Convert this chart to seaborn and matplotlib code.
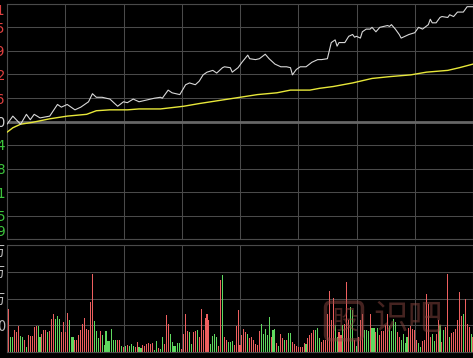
import matplotlib
matplotlib.use("Agg")
import matplotlib.pyplot as plt
import seaborn as sns

# ---------------- data ----------------
prev_close = 30.00
price_step = 0.262

price_min = [0, 3, 7, 10, 12, 14, 17, 22, 26, 28, 31, 35, 38, 42, 44, 46, 49, 53, 57, 60,
             62, 65, 68, 74, 76, 79, 80, 83, 85, 89, 92, 94, 97, 99, 101, 103, 106, 108, 111, 112,
             115, 116, 119, 121, 124, 125, 128, 130, 133, 135, 138, 141, 144, 146, 147, 149, 151, 154, 157, 160,
             162, 165, 167, 169, 170, 171, 174, 176, 178, 179, 180, 182, 183, 185, 187, 188, 190, 192, 194, 196,
             197, 198, 200, 202, 203, 205, 207, 210, 212, 214, 217, 218, 219, 221, 223, 224, 227, 228, 230, 232,
             233, 235, 237, 240]
price_val = [29.97, 30.06, 29.97, 30.08, 30.02, 30.08, 30.04, 30.06, 30.19, 30.16, 30.19, 30.13, 30.16, 30.22, 30.31, 30.27, 30.27, 30.25, 30.17, 30.22,
             30.21, 30.25, 30.22, 30.25, 30.26, 30.27, 30.26, 30.35, 30.32, 30.30, 30.41, 30.43, 30.41, 30.45, 30.52, 30.55, 30.57, 30.54, 30.60, 30.61,
             30.60, 30.55, 30.60, 30.66, 30.74, 30.70, 30.69, 30.70, 30.75, 30.70, 30.64, 30.61, 30.61, 30.60, 30.52, 30.58, 30.61, 30.61, 30.66, 30.69,
             30.69, 30.70, 30.88, 30.91, 30.84, 30.88, 30.88, 30.95, 30.97, 30.94, 30.95, 30.93, 31.00, 31.03, 31.03, 31.05, 31.00, 31.05, 31.06, 31.07,
             31.06, 31.08, 31.03, 30.97, 30.93, 30.95, 30.97, 30.99, 31.05, 31.03, 31.08, 31.14, 31.10, 31.10, 31.16, 31.17, 31.16, 31.19, 31.17, 31.22,
             31.22, 31.22, 31.28, 31.28]

avg_min = [0, 3, 7, 13, 22, 31, 41, 46, 53, 62, 68, 79, 91, 99, 108, 120, 129, 139, 146, 156,
           161, 168, 178, 188, 197, 208, 216, 227, 233, 240]
avg_val = [29.88, 29.93, 29.97, 29.99, 30.03, 30.06, 30.08, 30.12, 30.13, 30.13, 30.14, 30.14, 30.17, 30.20, 30.23, 30.27, 30.30, 30.32, 30.35, 30.35,
           30.37, 30.39, 30.43, 30.48, 30.50, 30.52, 30.55, 30.57, 30.60, 30.64]

volume = [8200, 14500, 5100, 5100, 7300, 6800, 8700, 5300, 4900, 4000,
          1800, 5700, 5300, 5300, 8400, 8700, 8700, 4900, 6000, 7300,
          7500, 6800, 7100, 11200, 12700, 11200, 12000, 11200, 6800, 10100,
          6800, 13100, 10700, 4900, 4900, 4000, 4200, 5700, 7500, 9500,
          11500, 7900, 7300, 16800, 26400, 10400, 7100, 4600, 7100, 5700,
          2300, 7100, 3800, 3800, 7800, 4200, 4000, 4200, 4000, 2000,
          1600, 2000, 2300, 2000, 2700, 2000, 1600, 3400, 1600, 1200,
          2300, 2000, 2700, 2900, 2700, 2900, 700, 3800, 1200, 900,
          5100, 2700, 12300, 9300, 6200, 3400, 2000, 2000, 2900, 2900,
          900, 6200, 12700, 7100, 6700, 2700, 6700, 7100, 7300, 4900,
          14500, 7500, 11500, 12700, 10900, 2700, 5300, 6000, 4900, 2000,
          24200, 26000, 5100, 4200, 3400, 3400, 3800, 2300, 8700, 14200,
          2300, 5700, 7900, 6800, 6000, 4600, 4900, 4000, 2700, 2300,
          7100, 9500, 6000, 7900, 5700, 11800, 4900, 7500, 7900, 2900,
          2000, 6000, 4600, 4200, 4200, 6400, 6400, 3400, 2700, 2000,
          1600, 1800, 1600, 3100, 2700, 4600, 5700, 6400, 7500, 7500,
          8200, 4600, 3400, 4000, 4200, 12700, 20600, 10700, 18200, 9000,
          5100, 6800, 5700, 9000, 9500, 23400, 10700, 15100, 14000, 4000,
          2000, 5100, 10700, 12700, 7500, 7300, 7100, 12700, 8200, 8200,
          6800, 8200, 5700, 7100, 7100, 9000, 12700, 8700, 7100, 11200,
          10100, 6800, 5100, 4000, 6200, 2900, 5100, 8200, 8700, 7900,
          7300, 4000, 2900, 1800, 3800, 4000, 19500, 16200, 4900, 6200,
          3800, 6000, 10900, 9000, 3400, 7300, 8400, 26400, 5100, 6400,
          6800, 7900, 10900, 20100, 12000, 12700, 17900, 9500, 8400, 6200,
          5100]
vol_dir = ("grggrrrggr" "grrrrrggrr" "rgrrrgggrr" "rrgggrrrrr" "rrrrrgggrg"
           "gggggggrrg" "rgrgggrrgg" "rrrr" "rrggrg"
           "grrrgggggg" "rrrrggrrgr" "rrrrrggggr" "rgrrgggrrr" "rrrrgrrrrr"
           "rggggg" "rggr" "grrgrggrrrr"
           "rrrgrrrrg" "ggrrrrrrrg" "grrgrrrggr" "grrrgggrgg" "rgrrrrrggg"
           "grrggggrrr" "rrggrrrrrg" "grrgrgrrgr" "rrrrrgrrrgr")

price_ticks = [prev_close + k * price_step for k in range(5, -6, -1)]
price_labels = ["31.31", "31.05", "30.79", "30.52", "30.26", "30.00",
                "29.74", "29.48", "29.21", "28.95", "28.69"]
vol_ticks = [36000, 27000, 18000, 9000]
vol_labels = ["3.6万", "2.7万", "1.8万", "9000"]
time_ticks = [0, 60, 120, 180, 240]
time_labels = ["09:30", "10:30", "13:00", "14:00", "15:00"]

# ---------------- style ----------------
sns.set_theme(style="dark", rc={"patch.edgecolor": "none", "patch.linewidth": 0})
plt.rcParams["font.family"] = ["DejaVu Sans", "Noto Sans CJK SC"]
BG = "#000000"
GRID = "#4a4a4a"
RED_T = "#e04040"
GRN_T = "#3cc43c"
UP_C = "#ee5f5f"
DN_C = "#5fd85f"

W, H = 473, 358
fig = plt.figure(figsize=(W / 100, H / 100), dpi=100, facecolor=BG)

def px_axes(x0, y0, x1, y1):
    return fig.add_axes([x0 / W, 1 - y1 / H, (x1 - x0) / W, (y1 - y0) / H])

axp = px_axes(7, 4, 473, 239)
axv = px_axes(7, 245, 473, 352)

for ax in (axp, axv):
    ax.set_facecolor(BG)
    for s in ax.spines.values():
        s.set_color(GRID)
        s.set_linewidth(0.8)
    ax.set_xlim(0, 240)
    ax.set_xticks([0, 30, 60, 90, 120, 150, 180, 210, 240])
    ax.grid(True, color=GRID, linewidth=0.75)
    ax.tick_params(axis="x", length=0, labelbottom=False)

# price panel
axp.set_ylim(prev_close - 5 * price_step, prev_close + 5 * price_step)
axp.axhline(prev_close, color="#666666", linewidth=2.0, zorder=1)
sns.lineplot(x=avg_min, y=avg_val, ax=axp, color="#e8e83a", linewidth=1.0,
             estimator=None, sort=False, zorder=3)
sns.lineplot(x=price_min, y=price_val, ax=axp, color="#d8d8d8", linewidth=0.8,
             estimator=None, sort=False, zorder=4)
axp.set_xlim(0, 240)
axp.set_yticks(price_ticks, price_labels)
axp.tick_params(axis="y", length=0, pad=0.8, labelsize=10)
for i, lab in enumerate(axp.get_yticklabels()):
    if i < 5:
        lab.set_color(RED_T)
    elif i == 5:
        lab.set_color("#d0d0d0")
    else:
        lab.set_color(GRN_T)
    if i == 0:
        lab.set_va("top")
    elif i == len(price_labels) - 1:
        lab.set_va("bottom")
axp.set_xlabel("")
axp.set_ylabel("")

# volume panel: up bars and down bars
up_x = [i for i, c in enumerate(vol_dir) if c == "r"]
up_v = [volume[i] for i in up_x]
dn_x = [i for i, c in enumerate(vol_dir) if c == "g"]
dn_v = [volume[i] for i in dn_x]
sns.barplot(x=up_x, y=up_v, ax=axv, color=UP_C, native_scale=True,
            width=0.55, saturation=1, errorbar=None, linewidth=0)
sns.barplot(x=dn_x, y=dn_v, ax=axv, color=DN_C, native_scale=True,
            width=0.55, saturation=1, errorbar=None, linewidth=0)
for p in axv.patches:
    p.set_linewidth(0)
    p.set_edgecolor("none")
axv.set_xlim(0, 240)
axv.set_ylim(0, 36000)
axv.set_yticks(vol_ticks, vol_labels)
axv.tick_params(axis="y", length=0, pad=0.8, labelsize=10, colors="#bdbdbd")
for i, lab in enumerate(axv.get_yticklabels()):
    lab.set_family(["Noto Sans CJK SC", "DejaVu Sans"])
    if i == 0:
        lab.set_va("top")
axv.set_xlabel("")
axv.set_ylabel("")
axv.grid(True, color=GRID, linewidth=0.75)

# time labels (mostly below the visible area)
for t, lab in zip(time_ticks, time_labels):
    ha = "left" if t == 0 else ("right" if t == 240 else "center")
    axv.text(t, -0.045, lab, transform=axv.get_xaxis_transform(), ha=ha, va="top",
             color="#bdbdbd", fontsize=9)

# watermark
fig.text(344 / W, 1 - 321 / H, "股", family=["Noto Sans CJK SC"], fontsize=19,
         color="#8a4640", alpha=0.5, ha="center", va="center",
         bbox=dict(boxstyle="round,pad=0.2", fc="none", ec="#8a4640", lw=2.5, alpha=0.5))
fig.text(408 / W, 1 - 320 / H, "识吧", family=["Noto Sans CJK SC"], fontsize=25,
         color="#8a4640", alpha=0.5, ha="center", va="center")

fig.savefig("out.png", dpi=100, facecolor=BG)
